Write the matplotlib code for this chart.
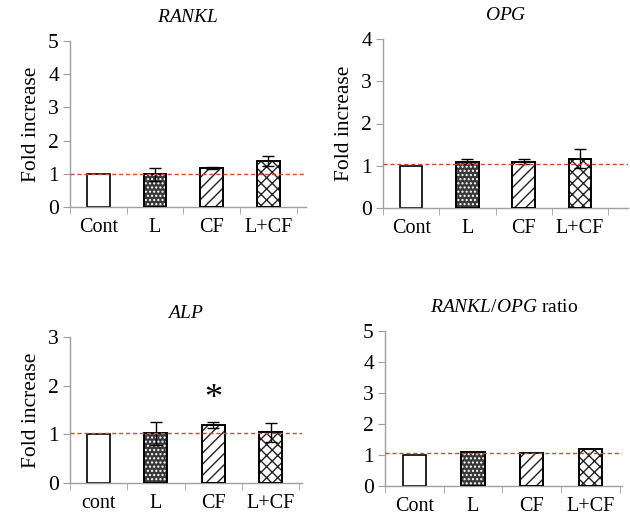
import numpy as np
import matplotlib.pyplot as plt
from matplotlib.ticker import FixedLocator

plt.rcParams["font.family"] = ["Liberation Serif", "DejaVu Serif"]
plt.rcParams["mathtext.fontset"] = "custom"
plt.rcParams["mathtext.rm"] = "Liberation Serif"
plt.rcParams["mathtext.it"] = "Liberation Serif:italic"
plt.rcParams["hatch.linewidth"] = 1.0

groups = ["Cont", "L", "CF", "L+CF"]
groups_alp = ["cont", "L", "CF", "L+CF"]

rankl = [1.0, 0.98, 1.18, 1.39]
rankl_err = [0.0, 0.20, 0.03, 0.15]

opg = [1.0, 1.10, 1.10, 1.17]
opg_err = [0.0, 0.06, 0.07, 0.22]

alp = [1.0, 1.02, 1.19, 1.04]
alp_err = [0.0, 0.24, 0.06, 0.19]

ratio = [1.0, 1.10, 1.08, 1.20]

# red reference line level per panel
ref_lines = [1.0, 1.03, 1.02, 1.05]


def bars(ax, labels, values, errors, ymax, xmax, ref, title, ylabel=True, star=None):
    x = np.arange(len(values))
    w = 0.4
    # Cont: plain white
    ax.bar(x[0], values[0], w, color="white", edgecolor="black", linewidth=1.2, zorder=2)
    # L: dark with white dots
    ax.bar(x[1], values[1], w, color="#383838", edgecolor="white", hatch="....", linewidth=0, zorder=2)
    # CF: diagonal dashes
    ax.bar(x[2], values[2], w, color="white", edgecolor="#222222", hatch="///", linewidth=0, zorder=2)
    # L+CF: crosshatch
    ax.bar(x[3], values[3], w, color="white", edgecolor="#222222", hatch="xxx", linewidth=0, zorder=2)
    ax.bar(x[1:], values[1:], w, color="none", edgecolor="black", linewidth=1.4, zorder=3)

    if errors is not None:
        for xi, v, e in zip(x, values, errors):
            if e > 0:
                ax.errorbar(xi, v, yerr=e, color="black", capsize=4, elinewidth=1.0,
                            capthick=1.0, zorder=4)

    ax.axhline(ref, color="#d9452f", linestyle="--", linewidth=1.0, dashes=(3, 2), zorder=5)

    ax.set_xlim(-0.5, xmax)
    ax.set_ylim(0, ymax)
    ax.set_yticks(range(0, ymax + 1))
    ax.set_xticks(x)
    ax.set_xticklabels(labels)
    ax.xaxis.set_minor_locator(FixedLocator(np.arange(-0.5, 3.6, 1.0)))
    ax.tick_params(axis="x", which="major", length=0, labelsize=14.5, pad=8)
    ax.tick_params(axis="x", which="minor", length=5, color="#a0a0a0", direction="out")
    ax.tick_params(axis="y", length=5, color="#a0a0a0", labelsize=15.5, pad=3)

    for s in ["top", "right"]:
        ax.spines[s].set_visible(False)
    for s in ["left", "bottom"]:
        ax.spines[s].set_color("#a0a0a0")
        ax.spines[s].set_linewidth(1.0)

    if ylabel:
        ax.set_ylabel("Fold increase", fontsize=15.5, labelpad=5)
    ax.set_title(title, fontsize=14, pad=14)

    if star is not None:
        ax.text(x[2], star, "*", ha="center", va="center", fontsize=26)


fig = plt.figure(figsize=(6.3, 5.26), dpi=100)

ax1 = fig.add_axes([70 / 630, 1 - 207 / 526, (3.67 + 0.5) * 56.7 / 630, 166 / 526])
bars(ax1, groups, rankl, rankl_err, 5, 3.67, ref_lines[0], r"$\it{RANKL}$")

ax2 = fig.add_axes([383 / 630, 1 - 208 / 526, (3.85 + 0.5) * 56.3 / 630, 169 / 526])
bars(ax2, groups, opg, opg_err, 4, 3.85, ref_lines[1], r"$\it{OPG}$")

ax3 = fig.add_axes([70 / 630, 1 - 483 / 526, (3.55 + 0.5) * 57.3 / 630, 146 / 526])
bars(ax3, groups_alp, alp, alp_err, 3, 3.55, ref_lines[2], r"$\it{ALP}$", star=1.72)

ax4 = fig.add_axes([385 / 630, 1 - 486 / 526, (3.54 + 0.5) * 58.7 / 630, 155 / 526])
bars(ax4, groups, ratio, None, 5, 3.54, ref_lines[3], r"$\it{RANKL/OPG}$ ratio", ylabel=False)

fig.savefig("out.png", dpi=100)
